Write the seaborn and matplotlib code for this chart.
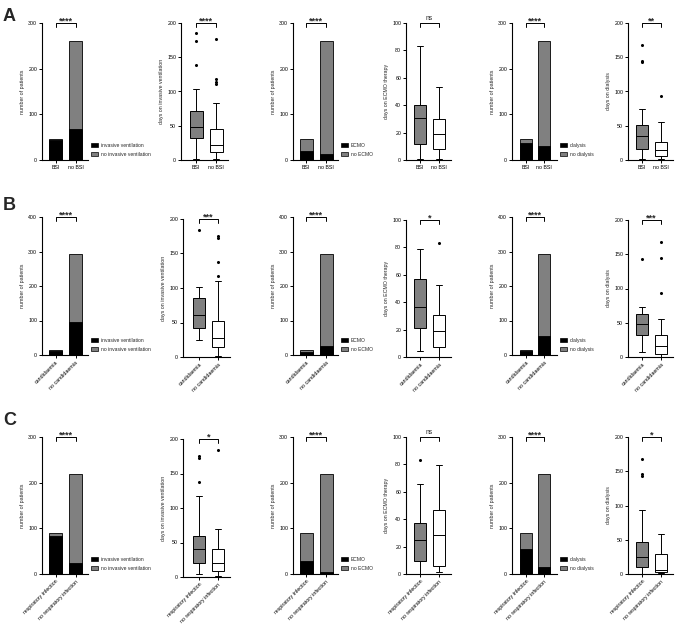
import numpy as np
import pandas as pd
import matplotlib
matplotlib.use("Agg")
import matplotlib.pyplot as plt
import seaborn as sns
from matplotlib.patches import Patch

sns.set_style("ticks")
plt.rcParams["font.family"] = ["Liberation Sans", "DejaVu Sans"]

# ---------------- data ----------------
groups_A = ["BSI", "no BSI"]
groups_B = ["candidaemia", "no candidaemia"]
groups_C = ["respiratory infection", "no respiratory infection"]

# stacked bar counts (yes = black, no = grey)
vent_yes_A = [44, 67];   vent_no_A = [3, 194]
ecmo_yes_A = [20, 13];   ecmo_no_A = [27, 248]
dial_yes_A = [38, 31];   dial_no_A = [9, 230]

vent_yes_B = [13, 96];   vent_no_B = [1, 198]
ecmo_yes_B = [9, 26];    ecmo_no_B = [5, 268]
dial_yes_B = [13, 55];   dial_no_B = [1, 239]

vent_yes_C = [84, 25];   vent_no_C = [6, 193]
ecmo_yes_C = [28, 5];    ecmo_no_C = [62, 213]
dial_yes_C = [55, 15];   dial_no_C = [35, 203]

# box plot samples (days)
vent_A_1 = [1.5, 14, 22, 28, 32.5, 36, 40, 44, 47.5, 52, 58, 64, 71, 103, 139, 173, 186]
vent_A_2 = [2, 4, 6, 8, 10, 11, 13, 15, 18, 20, 22, 26, 30, 35, 40, 44.7, 82.5, 111, 114.5, 118, 177]
ecmo_A_1 = [1, 12, 31, 40.5, 83]
ecmo_A_2 = [0.5, 8, 19, 30, 53]
dial_A_1 = [1, 5, 9, 12, 15.5, 20, 25, 30, 34.5, 38, 42, 47, 51.5, 74, 143, 145, 168]
dial_A_2 = [1, 3, 6, 10, 14, 19, 26, 55.5, 94]

vent_B_1 = [25, 33, 42, 52, 61.5, 74, 85.7, 101.7, 184.5]
vent_B_2 = [1, 3, 6, 9, 12, 14, 17, 20, 23, 25, 27.6, 31, 36, 41, 47, 52.5, 110, 116.7, 137.5, 172, 176]
ecmo_B_1 = [4.6, 21.2, 36.3, 56.8, 78.5]
ecmo_B_2 = [0, 3, 7.3, 13, 18.8, 25, 30.5, 52.2, 83]
dial_B_1 = [7.4, 20, 31.9, 40, 48, 55, 62.7, 72.5, 142.6]
dial_B_2 = [0, 1, 2, 3, 3.9, 6, 9, 12, 15.7, 19, 23, 28, 32.4, 55.4, 93, 144.6, 168.6]

vent_C_1 = [4.8, 9, 13, 17, 21, 26, 31, 36, 40.7, 45, 49, 54, 59.5, 117, 138, 172.4, 175]
vent_C_2 = [2, 5, 8.2, 14, 20.3, 30, 40.2, 69.7, 184.5]
ecmo_C_1 = [0, 5, 9.7, 17, 25, 31, 37.5, 65.5, 83]
ecmo_C_2 = [1.2, 6, 28.7, 47, 79.3]
dial_C_1 = [0, 2, 5, 8, 10.2, 14, 18, 22, 25.3, 30, 35, 41, 46.7, 94, 143, 146, 168]
dial_C_2 = [1.5, 3.4, 5.8, 29.7, 58.4]

sig_A = ["****", "****", "****", "ns", "****", "**"]
sig_B = ["****", "***", "****", "*", "****", "***"]
sig_C = ["****", "*", "****", "ns", "****", "*"]

legend_vent = ["invasive ventilation", "no invasive ventilation"]
legend_ecmo = ["ECMO", "no ECMO"]
legend_dial = ["dialysis", "no dialysis"]

ylab_bar = "number of patients"
ylab_vent = "days on invasive ventilation"
ylab_ecmo = "days on ECMO therapy"
ylab_dial = "days on dialysis"

# ---------------- layout ----------------
W, H = 676, 627
GREY = "#808080"
FS = 3.8
fig = plt.figure(figsize=(W / 100, H / 100), dpi=100)


def place(left, right, c0, c1, top, bottom):
    u = c1 - c0
    ax = fig.add_axes([left / W, 1 - bottom / H, (right - left) / W, (bottom - top) / H])
    return ax, ((left - c0) / u, (right - c0) / u)


def style(ax, xlim, ymax, step, ylabel, cats, rot, sig):
    ax.set_xlim(*xlim)
    ax.set_ylim(0, ymax)
    ax.set_yticks(np.arange(0, ymax + 1, step))
    sns.despine(ax=ax)
    for s in ["left", "bottom"]:
        ax.spines[s].set_linewidth(0.8)
        ax.spines[s].set_color("black")
    ax.tick_params(length=2.5, width=0.7, labelsize=FS, pad=1, colors="black")
    ax.set_xlabel("")
    ax.set_ylabel(ylabel, fontsize=FS, labelpad=2.5)
    ax.set_xticks([0, 1])
    if rot:
        ax.set_xticklabels(cats, rotation=45, ha="right", rotation_mode="anchor")
    else:
        ax.set_xticklabels(cats)
    tr = ax.get_xaxis_transform()
    ax.plot([0, 0, 1, 1], [0.97, 1, 1, 0.97], transform=tr, color="black",
            lw=0.7, clip_on=False)
    if sig == "ns":
        ax.annotate(sig, xy=(0.5, 1), xycoords=tr, xytext=(0, 2.5),
                    textcoords="offset points", ha="center", va="baseline",
                    fontsize=4.8, annotation_clip=False)
    else:
        ax.annotate(sig, xy=(0.5, 1), xycoords=tr, xytext=(0, -0.6),
                    textcoords="offset points", ha="center", va="baseline",
                    fontsize=6.5, fontweight="bold", annotation_clip=False)


def bar_panel(ax, xlim, cats, yes, no, ymax, step, leg, sig, rot):
    tot = np.array(yes) + np.array(no)
    sns.barplot(x=cats, y=tot, order=cats, color=GREY, saturation=1,
                edgecolor="black", linewidth=0.6, width=0.65, errorbar=None, ax=ax)
    sns.barplot(x=cats, y=yes, order=cats, color="black", saturation=1,
                edgecolor="black", linewidth=0.6, width=0.65, errorbar=None, ax=ax)
    style(ax, xlim, ymax, step, ylab_bar, cats, rot, sig)
    handles = [Patch(facecolor="black", edgecolor="black", lw=0.5, label=leg[0]),
               Patch(facecolor=GREY, edgecolor="black", lw=0.5, label=leg[1])]
    ax.legend(handles=handles, loc="lower left", bbox_to_anchor=(1.0, 0.0),
              frameon=False, fontsize=3.6, handlelength=1.3, handleheight=0.8,
              handletextpad=0.7, labelspacing=0.8, borderaxespad=0.6, borderpad=0)


def box_panel(ax, xlim, cats, d1, d2, ymax, step, ylabel, sig, rot):
    df = pd.DataFrame({"group": [cats[0]] * len(d1) + [cats[1]] * len(d2),
                       "days": list(d1) + list(d2)})
    sns.boxplot(data=df, x="group", y="days", hue="group", order=cats,
                hue_order=cats, palette=[GREY, "white"], saturation=1,
                linecolor="black", linewidth=0.7, width=0.65, whis=1.5,
                fliersize=1.2, legend=False, ax=ax,
                flierprops=dict(marker="o", markerfacecolor="black",
                                markeredgecolor="black"))
    style(ax, xlim, ymax, step, ylabel, cats, rot, sig)


rows = [
    dict(cats=groups_A, rot=False, sig=sig_A, bar_tb=(23, 160), box_tb=(23, 160),
         vent_tb=(23, 160), col2=(181, 228, 196, 216), bar_max=300, bar_step=100,
         vent=(vent_yes_A, vent_no_A), ecmo=(ecmo_yes_A, ecmo_no_A), dial=(dial_yes_A, dial_no_A),
         bv=(vent_A_1, vent_A_2), be=(ecmo_A_1, ecmo_A_2), bd=(dial_A_1, dial_A_2)),
    dict(cats=groups_B, rot=True, sig=sig_B, bar_tb=(217, 355), box_tb=(220, 357),
         vent_tb=(219, 357), col2=(183, 230, 199, 218), bar_max=400, bar_step=100,
         vent=(vent_yes_B, vent_no_B), ecmo=(ecmo_yes_B, ecmo_no_B), dial=(dial_yes_B, dial_no_B),
         bv=(vent_B_1, vent_B_2), be=(ecmo_B_1, ecmo_B_2), bd=(dial_B_1, dial_B_2)),
    dict(cats=groups_C, rot=True, sig=sig_C, bar_tb=(437, 574), box_tb=(437, 574),
         vent_tb=(439, 577), col2=(183, 230, 199, 218), bar_max=300, bar_step=100,
         vent=(vent_yes_C, vent_no_C), ecmo=(ecmo_yes_C, ecmo_no_C), dial=(dial_yes_C, dial_no_C),
         bv=(vent_C_1, vent_C_2), be=(ecmo_C_1, ecmo_C_2), bd=(dial_C_1, dial_C_2)),
]

for r in rows:
    c = r["cats"]
    ax, xl = place(42, 88, 55.5, 75.5, *r["bar_tb"])
    bar_panel(ax, xl, c, *r["vent"], r["bar_max"], r["bar_step"], legend_vent, r["sig"][0], r["rot"])
    ax, xl = place(*r["col2"], *r["vent_tb"])
    box_panel(ax, xl, c, *r["bv"], 200, 50, ylab_vent, r["sig"][1], r["rot"])
    ax, xl = place(293, 338, 306, 326, *r["bar_tb"])
    bar_panel(ax, xl, c, *r["ecmo"], r["bar_max"], r["bar_step"], legend_ecmo, r["sig"][2], r["rot"])
    ax, xl = place(406, 451, 420, 439, *r["box_tb"])
    box_panel(ax, xl, c, *r["be"], 100, 20, ylab_ecmo, r["sig"][3], r["rot"])
    ax, xl = place(512, 557, 526, 544, *r["bar_tb"])
    bar_panel(ax, xl, c, *r["dial"], r["bar_max"], r["bar_step"], legend_dial, r["sig"][4], r["rot"])
    ax, xl = place(628, 673, 642, 661, *r["box_tb"])
    box_panel(ax, xl, c, *r["bd"], 200, 50, ylab_dial, r["sig"][5], r["rot"])

for letter, yb in [("A", 21), ("B", 210), ("C", 425)]:
    fig.text(3 / W, 1 - yb / H, letter, fontsize=13, fontweight="bold", va="baseline")

fig.savefig("out.png", dpi=100)
